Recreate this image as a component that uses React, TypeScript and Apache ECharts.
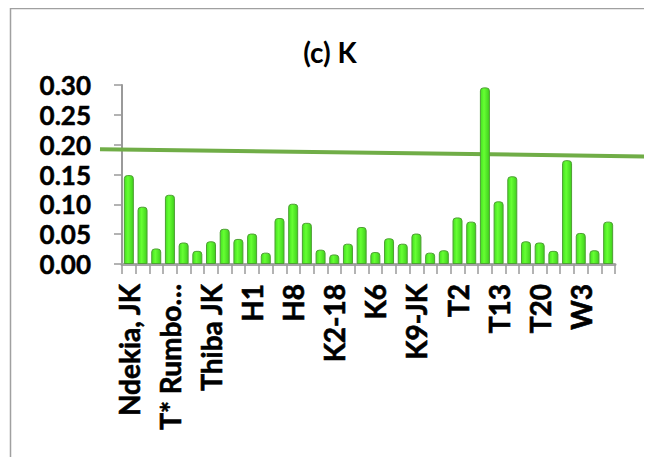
import React, { useEffect, useRef } from "react";
import * as echarts from "echarts";

const categories: string[] = [
  "Ndekia, JK", "Ndekia, SS", "Kiaruhiu JK", "T* Rumbo…", "Kiangai JK", "Kiamutugu",
  "Thiba JK", "Thiba SS", "Kirinyaga", "H1", "H3", "H5",
  "H8", "H10", "K2-12", "K2-18", "K3", "K4",
  "K6", "K7", "K8", "K9-JK", "K10", "T1",
  "T2", "T5", "T9", "T13", "T15", "T17",
  "T20", "T22", "W1", "W3", "W5", "W7",
];

const kValues: number[] = [
  0.149, 0.096, 0.026, 0.116, 0.036, 0.022,
  0.038, 0.059, 0.042, 0.051, 0.019, 0.077,
  0.101, 0.069, 0.024, 0.016, 0.034, 0.062,
  0.020, 0.043, 0.034, 0.051, 0.019, 0.023,
  0.078, 0.071, 0.296, 0.105, 0.147, 0.038,
  0.036, 0.022, 0.174, 0.052, 0.023, 0.071,
];

// reference line value at the left and right end of the category axis
const refLine: number[] = [0.192, 0.181];

const yMin = 0;
const yMax = 0.3;
const yStep = 0.05;

const FONT = "Lato";
const GRID_LEFT = 114;
const GRID_TOP = 77;
const GRID_WIDTH = 493;
const GRID_HEIGHT = 179;
const W = 644;
const H = 449;

export default function App() {
  const ref = useRef<HTMLDivElement>(null);

  useEffect(() => {
    if (!ref.current) return;
    const chart = echarts.init(ref.current, null, { renderer: "svg" });
    chart.setOption({
      animation: false,
      backgroundColor: "#ffffff",
      title: {
        text: "(c) K",
        left: "center",
        top: 25,
        textStyle: { fontFamily: FONT, fontWeight: "bold", fontSize: 28, color: "#000" },
      },
      grid: { left: GRID_LEFT, top: GRID_TOP, width: GRID_WIDTH, height: GRID_HEIGHT, containLabel: false },
      xAxis: {
        type: "category",
        data: categories,
        boundaryGap: true,
        axisLine: { show: true, lineStyle: { color: "#a6a6a6", width: 3 } },
        axisTick: { show: true, interval: 0, length: 10, lineStyle: { color: "#9a9a9a", width: 1.5 } },
        axisLabel: {
          interval: 2,
          rotate: 90,
          margin: 20,
          fontFamily: FONT,
          fontWeight: "bold",
          fontSize: 28,
          color: "#000",
          textBorderColor: "#000",
          textBorderWidth: 0.6,
        },
        splitLine: { show: false },
      },
      yAxis: {
        type: "value",
        min: yMin,
        max: yMax,
        interval: yStep,
        axisLine: { show: true, lineStyle: { color: "#9a9a9a", width: 2 } },
        axisTick: { show: true, length: 8, lineStyle: { color: "#9a9a9a", width: 1.5 } },
        axisLabel: {
          margin: 31,
          fontFamily: FONT,
          fontWeight: "bold",
          fontSize: 26,
          color: "#000",
          textBorderColor: "#000",
          textBorderWidth: 0.5,
          formatter: (v: number) => v.toFixed(2),
        },
        splitLine: { show: false },
      },
      series: [
        {
          type: "bar",
          data: kValues,
          barWidth: 10,
          z: 3,
          itemStyle: {
            color: new echarts.graphic.LinearGradient(0, 0, 1, 0, [
              { offset: 0, color: "#44e020" },
              { offset: 0.4, color: "#66ff33" },
              { offset: 1, color: "#3fd01c" },
            ]),
            borderColor: "#4e9e34",
            borderWidth: 1,
            borderRadius: [3, 3, 0, 0],
          },
        },
      ],
    });

    const yA = chart.convertToPixel({ yAxisIndex: 0 }, refLine[0]) as number;
    const yB = chart.convertToPixel({ yAxisIndex: 0 }, refLine[1]) as number;
    const xA = GRID_LEFT;
    const xB = GRID_LEFT + GRID_WIDTH;
    const slope = (yB - yA) / (xB - xA);
    const xs = 92;
    const xe = W;
    chart.setOption({
      graphic: [
        {
          type: "rect",
          z: 0,
          shape: { x: 2.5, y: 0.5, width: 637, height: 480 },
          style: { fill: "none", stroke: "#a0a0a0", lineWidth: 1.5 },
          silent: true,
        },
        {
          type: "line",
          z: 1,
          shape: { x1: xs, y1: yA + slope * (xs - xA), x2: xe, y2: yA + slope * (xe - xA) },
          style: { stroke: "#70ad47", lineWidth: 4 },
          silent: true,
        },
      ],
    });

    return () => chart.dispose();
  }, []);

  return <div ref={ref} style={{ width: W, height: H }} />;
}
